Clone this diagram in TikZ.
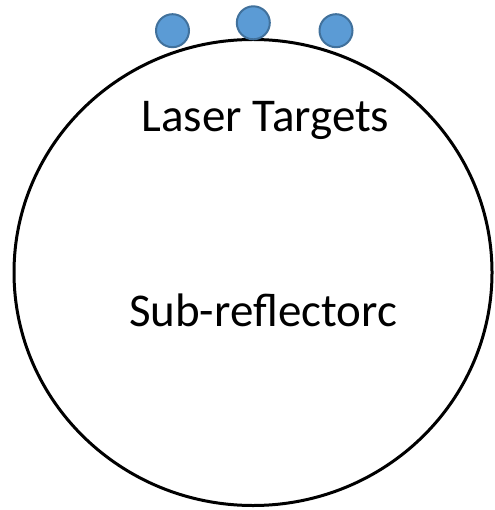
\documentclass[tikz,border=0pt]{standalone}
\usepackage{fontspec}
\setmainfont{Carlito}
\definecolor{targetfill}{HTML}{5B9BD5}
\definecolor{targetedge}{HTML}{41719C}
\tikzset{
  reflector/.style={draw=black, line width=3pt},
  target/.style={circle, fill=targetfill, draw=targetedge, line width=2pt, minimum size=33pt, inner sep=0pt},
  label/.style={font=\fontsize{47}{56}\selectfont, anchor=base, inner sep=0pt}
}
\begin{document}
\begin{tikzpicture}[x=1pt, y=-1pt]
  \useasboundingbox (0,0) rectangle (494,510);
  % sub-reflector outline
  \draw[reflector] (253,272.5) ellipse [x radius=239, y radius=233];
  % laser targets along the rim
  \node[target] (t1) at (172.5,30.7) {};
  \node[target] (t2) at (253.3,22.8) {};
  \node[target] (t3) at (336,30.7) {};
  % labels
  \node[label] (lt) at (265.5,131.5) {Laser Targets};
  \node[label] (sr) at (263,326.7) {Sub-reflectorc};
\end{tikzpicture}
\end{document}
